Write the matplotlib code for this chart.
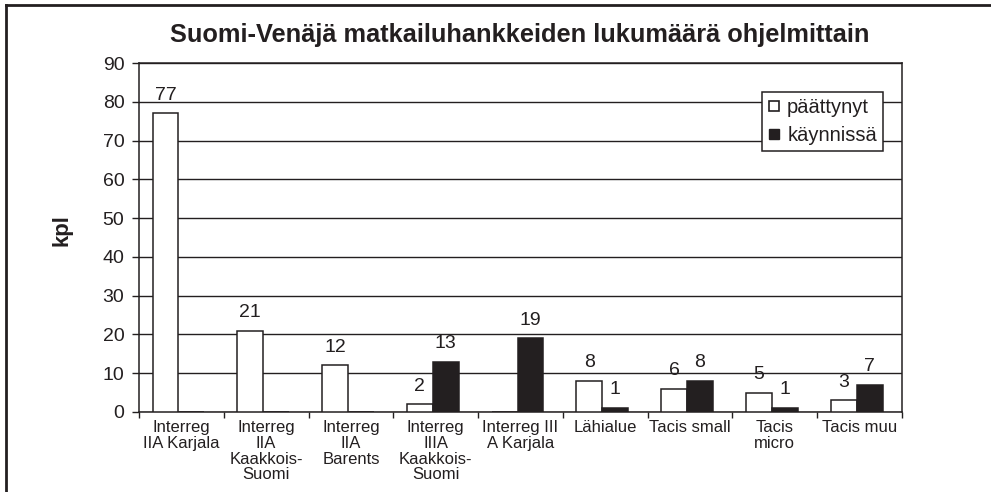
import matplotlib
matplotlib.use("Agg")
import matplotlib.pyplot as plt
from matplotlib.lines import Line2D
import numpy as np

plt.rcParams['font.family'] = ['Liberation Sans', 'DejaVu Sans']

title = "Suomi-Venäjä matkailuhankkeiden lukumäärä ohjelmittain"
ylabel = "kpl"
categories = ["Interreg\nIIA Karjala", "Interreg\nIIA\nKaakkois-\nSuomi", "Interreg\nIIA\nBarents",
              "Interreg\nIIIA\nKaakkois-\nSuomi", "Interreg III\nA Karjala", "Lähialue",
              "Tacis small", "Tacis\nmicro", "Tacis muu"]
series_names = ["päättynyt", "käynnissä"]
paattynyt = [77, 21, 12, 2, 0, 8, 6, 5, 3]
kaynnissa = [0, 0, 0, 13, 19, 1, 8, 1, 7]
yticks = list(range(0, 91, 10))

DARK = "#231f20"
W, H = 991, 492
fig = plt.figure(figsize=(W / 100, H / 100), dpi=100)
ax = fig.add_axes([139 / W, (H - 412) / H, (902 - 139) / W, (412 - 63) / H])

x = np.arange(len(categories))
bw = 0.305
b1 = ax.bar(x - 0.187, paattynyt, width=bw, color="white", edgecolor=DARK, linewidth=1.1, zorder=3)
b2 = ax.bar(x + 0.118, kaynnissa, width=bw, color=DARK, edgecolor=DARK, linewidth=1.1, zorder=3)

ax.bar_label(b1, labels=[str(v) if v else "" for v in paattynyt], padding=7, fontsize=14, color=DARK)
ax.bar_label(b2, labels=[str(v) if v else "" for v in kaynnissa], padding=7, fontsize=14, color=DARK)

ax.set_xlim(-0.5, len(categories) - 0.5)
ax.set_ylim(0, 90)
ax.set_yticks(yticks)
ax.yaxis.grid(True, color=DARK, linewidth=1.0, zorder=0)
ax.set_axisbelow(True)
ax.tick_params(axis="y", direction="out", length=5, width=1.0, color=DARK, labelsize=14, pad=5.5, labelcolor=DARK)

ax.set_xticks(x)
ax.set_xticklabels(categories, fontsize=12, linespacing=1.05, color=DARK)
ax.set_xticks(np.arange(-0.5, len(categories)), minor=True)
ax.tick_params(axis="x", which="major", length=0, pad=6)
ax.tick_params(axis="x", which="minor", direction="out", length=4, width=1.0, color=DARK)

for s in ax.spines.values():
    s.set_color(DARK)
    s.set_linewidth(1.1)

handles = [Line2D([], [], linestyle="none", marker="s", markersize=6.5, markerfacecolor="white",
                  markeredgecolor=DARK, markeredgewidth=1.2),
           Line2D([], [], linestyle="none", marker="s", markersize=6.5, markerfacecolor=DARK,
                  markeredgecolor=DARK)]
leg = ax.legend(handles, series_names, loc="upper right", bbox_to_anchor=(0.975, 0.917),
                borderaxespad=0, fontsize=14.5, fancybox=False, framealpha=1, edgecolor=DARK,
                handlelength=0.6, handletextpad=0.35, borderpad=0.3, labelspacing=0.45)
leg.get_frame().set_linewidth(1.1)
for t in leg.get_texts():
    t.set_color(DARK)

fig.text(520 / W, 1 - 41.7 / H, title, ha="center", va="baseline", fontsize=18.3, fontweight="bold", color=DARK)
fig.text(62 / W, 1 - 230.5 / H, ylabel, rotation=90, ha="center", va="center", fontsize=16, fontweight="bold", color=DARK)

fig.add_artist(Line2D([6 / W, 1], [1 - 5 / H, 1 - 5 / H], color=DARK, linewidth=2.0, transform=fig.transFigure))
fig.add_artist(Line2D([6 / W, 6 / W], [0, 1 - 5 / H], color=DARK, linewidth=2.0, transform=fig.transFigure))

fig.savefig("out.png", dpi=100)
